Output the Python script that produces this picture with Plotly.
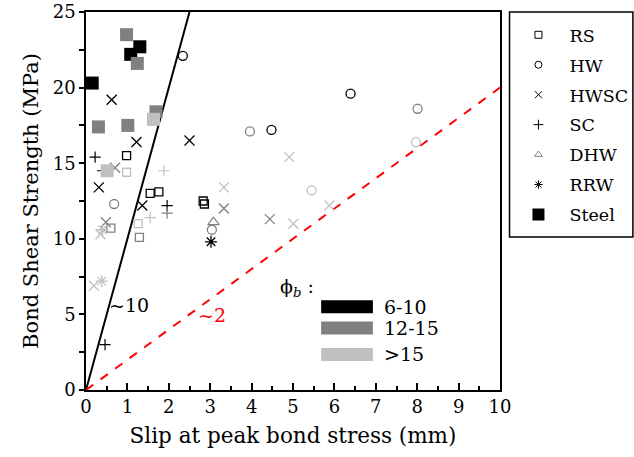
import plotly.graph_objects as go

# ---------------- data ----------------
shade_colors = {"k": "#000000", "g": "#808080", "l": "#c0c0c0"}

rs_x = [0.98, 1.55, 1.76, 2.83, 2.86, 0.98, 0.60, 1.26, 1.29]
rs_y = [15.5, 13.0, 13.1, 12.5, 12.3, 14.4, 10.7, 11.0, 10.1]
rs_c = ["k", "k", "k", "k", "k", "l", "g", "l", "g"]

hw_x = [2.34, 6.39, 4.48, 3.96, 8.01, 7.97, 5.45, 0.68, 3.04]
hw_y = [22.1, 19.6, 17.2, 17.1, 18.6, 16.4, 13.2, 12.3, 10.6]
hw_c = ["k", "k", "k", "g", "g", "l", "l", "g", "g"]

hwsc_x = [0.62, 1.22, 2.50, 0.31, 1.36, 0.70, 3.33, 3.33, 0.48, 0.35, 0.19, 4.91, 5.88, 4.44, 5.01]
hwsc_y = [19.2, 16.4, 16.5, 13.4, 12.2, 14.7, 13.4, 12.0, 11.1, 10.3, 6.9, 15.4, 12.2, 11.3, 11.0]
hwsc_c = ["k", "k", "k", "k", "k", "g", "l", "g", "g", "l", "l", "l", "l", "g", "l"]

sc_x = [0.22, 1.96, 0.46, 1.88, 1.55, 1.96, 0.40]
sc_y = [15.4, 12.2, 3.0, 14.5, 11.4, 11.7, 14.5]
sc_c = ["k", "k", "k", "l", "l", "g", "k"]

dhw_x = [3.08]
dhw_y = [11.1]
dhw_c = ["g"]

rrw_x = [3.02, 0.40, 0.38]
rrw_y = [9.8, 10.6, 7.2]
rrw_c = ["k", "l", "l"]

steel_x = [0.98, 1.30, 1.08, 1.24, 0.15, 1.69, 1.63, 0.30, 1.01, 0.51]
steel_y = [23.5, 22.7, 22.2, 21.6, 20.3, 18.4, 17.9, 17.4, 17.5, 14.5]
steel_c = ["g", "k", "k", "g", "k", "g", "l", "g", "g", "l"]

ref_slopes = [10, 2]
ref_labels = ["~10", "~2"]

phi_labels = ["6-10", "12-15", ">15"]
phi_shades = ["k", "g", "l"]

x_range = [0, 10]
y_range = [0, 25]

FONT = "DejaVu Serif"

fig = go.Figure()

# reference lines
line_styles = [dict(color="black", width=2, dash="solid"),
               dict(color="red", width=2, dash="dash")]
for s, st in zip(ref_slopes, line_styles):
    xe = min(x_range[1], y_range[1] / s)
    fig.add_trace(go.Scatter(x=[0, xe], y=[0, s * xe], mode="lines",
                             line=st, showlegend=False, hoverinfo="skip"))

series = [
    ("RS", rs_x, rs_y, rs_c, "square-open", 8, 1.3, "#000000"),
    ("HW", hw_x, hw_y, hw_c, "circle-open", 9, 1.3, "#000000"),
    ("HWSC", hwsc_x, hwsc_y, hwsc_c, "x-thin-open", 10, 1.3, "#000000"),
    ("SC", sc_x, sc_y, sc_c, "cross-thin-open", 8, 1.2, "#000000"),
    ("DHW", dhw_x, dhw_y, dhw_c, "triangle-up-open", 10, 1.2, "#808080"),
    ("RRW", rrw_x, rrw_y, rrw_c, "asterisk-open", 10, 1.3, "#000000"),
    ("Steel", steel_x, steel_y, steel_c, "square", 13, 0, "#000000"),
]

for name, xs, ys, cs, sym, size, lw, legc in series:
    cols = [shade_colors[c] for c in cs]
    fig.add_trace(go.Scatter(
        x=xs, y=ys, mode="markers", showlegend=False,
        marker=dict(symbol=sym, size=size, color=cols,
                    line=dict(width=lw, color=cols)),
    ))

for i, (name, xs, ys, cs, sym, size, lw, legc) in enumerate(series):
    lsize = 12 if name == "Steel" else 7
    fig.add_trace(go.Scatter(
        x=[None], y=[None], mode="markers", name=name, legendgroup=str(i),
        marker=dict(symbol=sym, size=lsize, color=legc,
                    line=dict(width=1 if lw else 0, color=legc)),
    ))

# legend frame (drawn as a layout box so its padding matches the original)
fig.add_shape(type="rect", xref="paper", yref="paper",
              x0=1.023, x1=1.321, y0=0.405, y1=1.0,
              line=dict(color="black", width=1.5), fillcolor="rgba(0,0,0,0)")

# slope labels
fig.add_annotation(x=1.05, y=5.6, text=ref_labels[0], showarrow=False,
                   font=dict(family=FONT, size=19, color="black"))
fig.add_annotation(x=3.05, y=4.95, text=ref_labels[1], showarrow=False,
                   font=dict(family=FONT, size=19, color="red"))

# bar-diameter key
fig.add_annotation(x=5.1, y=6.75, text="ϕ<sub><i>b</i></sub> :", showarrow=False,
                   font=dict(family=FONT, size=19, color="black"))
key_y = [5.5, 4.1, 2.35]
for lab, sh, yy in zip(phi_labels, phi_shades, key_y):
    fig.add_shape(type="rect", x0=5.68, x1=6.93, y0=yy - 0.43, y1=yy + 0.43,
                  fillcolor=shade_colors[sh], line=dict(width=0))
    fig.add_annotation(x=7.15, y=yy, text=lab, showarrow=False, xanchor="left",
                       font=dict(family=FONT, size=19, color="black"))

fig.update_layout(
    width=634, height=457,
    margin=dict(l=86, r=134, t=12, b=67, autoexpand=False),
    paper_bgcolor="white", plot_bgcolor="white",
    font=dict(family=FONT, size=17, color="black"),
    legend=dict(x=1.018, y=0.987, xanchor="left", yanchor="top",
                borderwidth=0, bgcolor="rgba(0,0,0,0)",
                font=dict(family=FONT, size=17.5, color="black"),
                itemwidth=52, tracegroupgap=4.2),
    xaxis=dict(range=x_range, dtick=1, showgrid=False, zeroline=False,
               showline=True, linecolor="black", linewidth=1.5, mirror=True,
               ticks="inside", ticklen=7, tickwidth=1.5, tickcolor="black",
               tickfont=dict(size=18), ticklabeloverflow="allow",
               minor=dict(dtick=0.5, ticks="inside", ticklen=4, tickwidth=1.5,
                          tickcolor="black", showgrid=False),
               title=dict(text="Slip at peak bond stress (mm)",
                          font=dict(family=FONT, size=21.5), standoff=12)),
    yaxis=dict(range=y_range, dtick=5, showgrid=False, zeroline=False,
               showline=True, linecolor="black", linewidth=1.5, mirror=True,
               ticks="outside", ticklen=5, tickwidth=1.5, tickcolor="black",
               tickfont=dict(size=18), ticklabeloverflow="allow",
               minor=dict(dtick=2.5, ticks="outside", ticklen=5, tickwidth=1.5,
                          tickcolor="black", showgrid=False),
               title=dict(text="Bond Shear Strength (MPa)",
                          font=dict(family=FONT, size=21), standoff=8)),
)

fig.write_html("out.html")
